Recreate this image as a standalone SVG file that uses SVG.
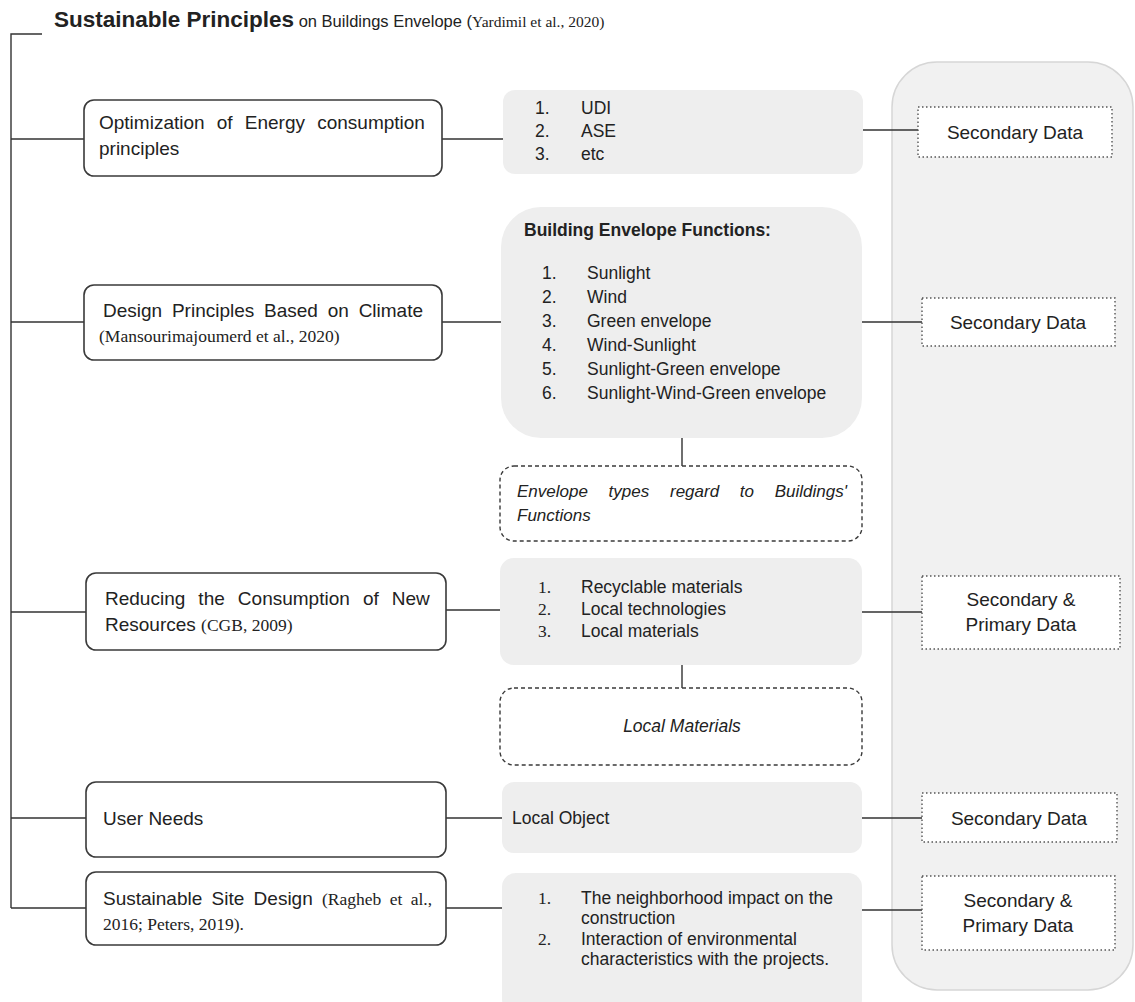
<svg xmlns="http://www.w3.org/2000/svg" width="1135" height="1002" viewBox="0 0 1135 1002">
<style>
.t{font-family:"Liberation Sans",Arial,sans-serif;fill:#222}
.s{font-family:"Liberation Serif","Times New Roman",serif;fill:#222}
.lb{fill:#fff;stroke:#3a3a3a;stroke-width:1.6}
.mb{fill:#eeeeee;stroke:none}
.db{fill:#fff;stroke:#3a3a3a;stroke-width:1.4;stroke-dasharray:4 3}
.sb{fill:#fff;stroke:#555;stroke-width:1.4;stroke-dasharray:1.5 2.5}
.c{fill:none;stroke:#333;stroke-width:1.4}
.L{font-size:19px}
.C{font-size:17.5px}
.M{font-size:17.5px}
.S{font-size:19px}
</style>
<rect width="1135" height="1002" fill="#fff"/>
<g id="panel"><rect x="892" y="62" width="241" height="928" rx="45" fill="#f1f1f1" stroke="#d6d6d6" stroke-width="1.5"/></g>
<g id="title">
<text x="54" y="27" class="t"><tspan font-weight="bold" font-size="22.5">Sustainable Principles</tspan><tspan font-size="16.5"> on Buildings Envelope (</tspan><tspan font-size="15.5" style="font-family:'Liberation Serif','Times New Roman',serif">Yardimil et al., 2020)</tspan></text>
</g>
<g id="connectors" class="c">
<path d="M42,34 H11 V908"/>
<path d="M11,139 H84 M11,322 H84 M11,612 H86 M11,818 H86 M11,908 H86"/>
<path d="M442,139 H503 M442,322 H501 M446,610 H500 M446,818 H502 M446,908 H502"/>
<path d="M863,130 H918 M862,322 H922 M862,612 H922 M862,818 H922 M862,910 H922"/>
<path d="M682,438 V466 M682,665 V688"/>
</g>
<g id="n1">
<rect class="lb" x="84" y="100" width="358" height="76" rx="10"/>
<text class="t L" x="99" y="129" word-spacing="6.9">Optimization of Energy consumption</text>
<text class="t L" x="99" y="155">principles</text>
</g>
<g id="n2">
<rect class="lb" x="84" y="285" width="358" height="75" rx="10"/>
<text class="t L" x="103" y="317" word-spacing="4.5">Design Principles Based on Climate</text>
<text class="s C" x="99" y="342">(Mansourimajoumerd et al., 2020)</text>
</g>
<g id="n3">
<rect class="lb" x="86" y="573" width="360" height="77" rx="10"/>
<text class="t L" x="105" y="605" word-spacing="7.8">Reducing the Consumption of New</text>
<text class="t L" x="105" y="631">Resources <tspan class="C" style="font-family:'Liberation Serif','Times New Roman',serif">(CGB, 2009)</tspan></text>
</g>
<g id="n4">
<rect class="lb" x="86" y="782" width="360" height="75" rx="10"/>
<text class="t L" x="103" y="825">User Needs</text>
</g>
<g id="n5">
<rect class="lb" x="86" y="872" width="360" height="73" rx="10"/>
<text class="t L" x="103" y="905" word-spacing="4">Sustainable Site Design <tspan class="C" style="font-family:'Liberation Serif','Times New Roman',serif">(Ragheb et al.,</tspan></text>
<text class="s C" x="103" y="930">2016; Peters, 2019).</text>
</g>
<g id="m1">
<rect class="mb" x="503" y="90" width="360" height="84" rx="12"/>
<g class="t M">
<text x="535" y="114">1.</text><text x="581" y="114">UDI</text>
<text x="535" y="137">2.</text><text x="581" y="137">ASE</text>
<text x="535" y="160">3.</text><text x="581" y="160">etc</text>
</g>
</g>
<g id="m2">
<rect class="mb" x="501" y="207" width="361" height="231" rx="40"/>
<text class="t M" font-weight="bold" x="524" y="236">Building Envelope Functions:</text>
<g class="t M">
<text x="542" y="279">1.</text><text x="587" y="279">Sunlight</text>
<text x="542" y="303">2.</text><text x="587" y="303">Wind</text>
<text x="542" y="327">3.</text><text x="587" y="327">Green envelope</text>
<text x="542" y="351">4.</text><text x="587" y="351">Wind-Sunlight</text>
<text x="542" y="375">5.</text><text x="587" y="375">Sunlight-Green envelope</text>
<text x="542" y="399">6.</text><text x="587" y="399">Sunlight-Wind-Green envelope</text>
</g>
</g>
<g id="d1">
<rect class="db" x="500" y="466" width="362" height="75" rx="14"/>
<text class="t" font-size="17" font-style="italic" x="517" y="497" word-spacing="16">Envelope types regard to Buildings'</text>
<text class="t" font-size="17" font-style="italic" x="517" y="521">Functions</text>
</g>
<g id="m3">
<rect class="mb" x="500" y="558" width="362" height="107" rx="14"/>
<g class="M">
<text class="s" x="538" y="593">1.</text><text class="t" x="581" y="593">Recyclable materials</text>
<text class="s" x="538" y="615">2.</text><text class="t" x="581" y="615">Local technologies</text>
<text class="s" x="538" y="637">3.</text><text class="t" x="581" y="637">Local materials</text>
</g>
</g>
<g id="d2">
<rect class="db" x="500" y="688" width="362" height="77" rx="14"/>
<text class="t M" font-style="italic" x="682" y="732" text-anchor="middle">Local Materials</text>
</g>
<g id="m4">
<rect class="mb" x="502" y="782" width="360" height="71" rx="12"/>
<text class="t M" x="512" y="824">Local Object</text>
</g>
<g id="m5">
<rect class="mb" x="502" y="873" width="360" height="140" rx="14"/>
<g class="M">
<text class="s" x="538" y="904">1.</text><text class="t" x="581" y="904">The neighborhood impact on the</text>
<text class="t" x="581" y="924">construction</text>
<text class="s" x="538" y="945">2.</text><text class="t" x="581" y="945">Interaction of environmental</text>
<text class="t" x="581" y="965">characteristics with the projects.</text>
</g>
</g>
<g id="s1"><rect class="sb" x="918" y="107" width="194" height="50"/><text class="t S" x="1015" y="139" text-anchor="middle">Secondary Data</text></g>
<g id="s2"><rect class="sb" x="922" y="298" width="193" height="48"/><text class="t S" x="1018" y="329" text-anchor="middle">Secondary Data</text></g>
<g id="s3"><rect class="sb" x="922" y="576" width="198" height="73"/><text class="t S" x="1021" y="606" text-anchor="middle">Secondary &amp;</text><text class="t S" x="1021" y="631" text-anchor="middle">Primary Data</text></g>
<g id="s4"><rect class="sb" x="922" y="793" width="195" height="49"/><text class="t S" x="1019" y="825" text-anchor="middle">Secondary Data</text></g>
<g id="s5"><rect class="sb" x="922" y="876" width="193" height="74"/><text class="t S" x="1018" y="907" text-anchor="middle">Secondary &amp;</text><text class="t S" x="1018" y="932" text-anchor="middle">Primary Data</text></g>
</svg>
